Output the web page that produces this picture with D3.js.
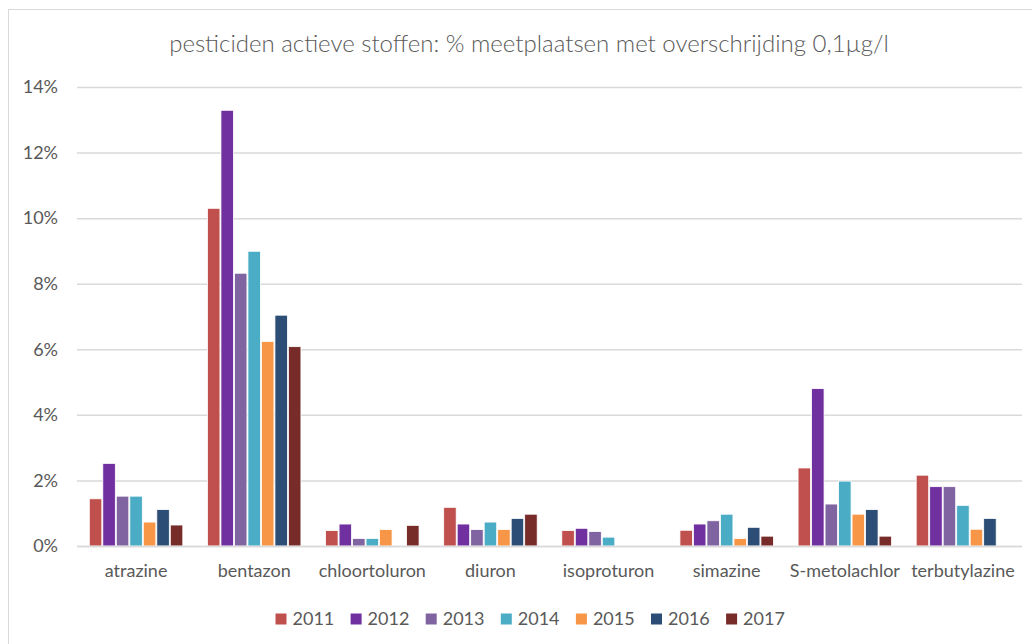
<!DOCTYPE html>
<html>
<head>
<meta charset="utf-8">
<script src="https://cdn.jsdelivr.net/npm/d3@7"></script>
<style>
  body { margin: 0; background: #fff; }
  text { font-family: Lato, "Open Sans", sans-serif; fill: #595959; }
</style>
</head>
<body>
<svg id="chart" width="1032" height="644"></svg>
<script>
var categories = ['atrazine', 'bentazon', 'chloortoluron', 'diuron', 'isoproturon', 'simazine', 'S-metolachlor', 'terbutylazine'];
var years = ['2011', '2012', '2013', '2014', '2015', '2016', '2017'];
var colors = ['#C0504D', '#7030A0', '#8064A2', '#4BACC6', '#F79646', '#2C4D75', '#772C2A'];

// % per category, one array per year
var v2011 = [1.44, 10.30, 0.47, 1.18, 0.47, 0.48, 2.38, 2.16];
var v2012 = [2.52, 13.29, 0.67, 0.67, 0.54, 0.67, 4.80, 1.81];
var v2013 = [1.52, 8.32, 0.23, 0.50, 0.44, 0.77, 1.28, 1.81];
var v2014 = [1.52, 8.99, 0.23, 0.73, 0.27, 0.97, 1.98, 1.24];
var v2015 = [0.73, 6.24, 0.50, 0.50, 0, 0.23, 0.97, 0.51];
var v2016 = [1.11, 7.04, 0, 0.84, 0, 0.57, 1.11, 0.84];
var v2017 = [0.64, 6.08, 0.63, 0.97, 0, 0.30, 0.30, 0];
var series = [v2011, v2012, v2013, v2014, v2015, v2016, v2017];

var yTicks = [0, 2, 4, 6, 8, 10, 12, 14];
var title = 'pesticiden actieve stoffen: % meetplaatsen met overschrijding 0,1µg/l';

var svg = d3.select('#chart');

// outer chart border (Excel chart area)
svg.append('rect')
   .attr('x', 8.5).attr('y', 9.5)
   .attr('width', 1040).attr('height', 660)
   .attr('fill', 'none')
   .attr('stroke', '#D9D9D9')
   .attr('stroke-width', 1);

var plotLeft = 77, plotRight = 1022, plotTop = 87, plotBottom = 546;

var x0 = d3.scaleBand().domain(categories).range([plotLeft, plotRight]).paddingInner(0.2).paddingOuter(0.1);
var x1 = d3.scaleBand().domain(years).range([0, x0.bandwidth()]);
var y = d3.scaleLinear().domain([0, 14]).range([plotBottom, plotTop]);

// gridlines + labels
var yAxis = d3.axisLeft(y)
              .tickValues(yTicks)
              .tickSize(-(plotRight - plotLeft))
              .tickPadding(19)
              .tickFormat(function(d) { return d + '%'; });

var gy = svg.append('g')
            .attr('transform', 'translate(' + plotLeft + ',0)')
            .call(yAxis);
gy.select('.domain').remove();
gy.selectAll('line').attr('stroke', '#D9D9D9').attr('stroke-width', 1.5);
gy.selectAll('text').attr('font-size', 18).attr('font-family', null).style('fill', '#595959');

// bars
var groups = svg.selectAll('.cat')
                .data(categories)
                .enter()
                .append('g')
                .attr('transform', function(d) { return 'translate(' + x0(d) + ',0)'; });

groups.selectAll('rect')
      .data(function(c, ci) {
        return years.map(function(yr, i) { return { year: yr, i: i, value: series[i][ci] }; });
      })
      .enter()
      .filter(function(d) { return d.value > 0; })
      .append('rect')
      .attr('x', function(d) { return x1(d.year) + 0.5; })
      .attr('width', x1.bandwidth() - 1)
      .attr('y', function(d) { return y(d.value); })
      .attr('height', function(d) { return plotBottom - y(d.value); })
      .attr('fill', function(d) { return colors[d.i]; })
      .attr('stroke', '#fff')
      .attr('stroke-width', 0.8);

// baseline drawn over the bars
svg.append('line')
   .attr('x1', plotLeft).attr('x2', plotRight)
   .attr('y1', plotBottom + 0.5).attr('y2', plotBottom + 0.5)
   .attr('stroke', '#D9D9D9')
   .attr('stroke-width', 1.5);

// x axis labels
var xAxis = d3.axisBottom(x0).tickSize(0).tickPadding(18);
var gx = svg.append('g')
            .attr('transform', 'translate(0,' + plotBottom + ')')
            .call(xAxis);
gx.select('.domain').remove();
gx.selectAll('text').attr('font-size', 18).attr('font-family', null).style('fill', '#595959');

// title
svg.append('text')
   .attr('x', 529)
   .attr('y', 52)
   .attr('text-anchor', 'middle')
   .attr('font-size', 24)
   .style('font-weight', 300)
   .text(title);

// legend
var legStep = 75.1, legStart = 275.5;
var legend = svg.selectAll('.legend')
                .data(years)
                .enter()
                .append('g')
                .attr('transform', function(d, i) { return 'translate(' + (legStart + i * legStep) + ',619)'; });

legend.append('rect')
      .attr('x', 0).attr('y', -5.5)
      .attr('width', 11).attr('height', 11)
      .attr('fill', function(d, i) { return colors[i]; });

legend.append('text')
      .attr('x', 17)
      .attr('dy', '0.35em')
      .attr('font-size', 18)
      .text(function(d) { return d; });
</script>
</body>
</html>
